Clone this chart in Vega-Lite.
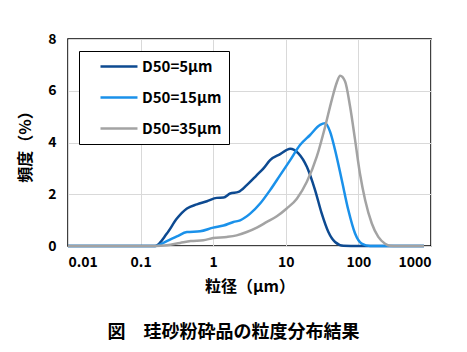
{
  "$schema": "https://vega.github.io/schema/vega-lite/v6.json",
  "width": 363,
  "height": 207,
  "autosize": {"type": "none"},
  "padding": {"left": 68, "top": 39, "right": 36, "bottom": 106},
  "background": "white",
  "title": {
    "text": "図　珪砂粉砕品の粒度分布結果",
    "orient": "bottom",
    "anchor": "middle",
    "frame": "group",
    "offset": 30,
    "dx": -16,
    "font": "Noto Sans CJK JP",
    "fontSize": 18,
    "fontWeight": "bold",
    "color": "#000"
  },
  "data": {
    "values": [
      {"s": "D50=5μm", "o": 1, "x": 0.01, "y": 0},
      {"s": "D50=5μm", "o": 1, "x": 0.1, "y": 0},
      {"s": "D50=5μm", "o": 1, "x": 0.159, "y": 0},
      {"s": "D50=5μm", "o": 1, "x": 0.23, "y": 0.48},
      {"s": "D50=5μm", "o": 1, "x": 0.316, "y": 1.06},
      {"s": "D50=5μm", "o": 1, "x": 0.435, "y": 1.45},
      {"s": "D50=5μm", "o": 1, "x": 0.596, "y": 1.61},
      {"s": "D50=5μm", "o": 1, "x": 0.82, "y": 1.73},
      {"s": "D50=5μm", "o": 1, "x": 1.12, "y": 1.86},
      {"s": "D50=5μm", "o": 1, "x": 1.39, "y": 1.87},
      {"s": "D50=5μm", "o": 1, "x": 1.71, "y": 2.03},
      {"s": "D50=5μm", "o": 1, "x": 2.23, "y": 2.09},
      {"s": "D50=5μm", "o": 1, "x": 2.9, "y": 2.35},
      {"s": "D50=5μm", "o": 1, "x": 3.99, "y": 2.74},
      {"s": "D50=5μm", "o": 1, "x": 4.93, "y": 3.0},
      {"s": "D50=5μm", "o": 1, "x": 6.08, "y": 3.32},
      {"s": "D50=5μm", "o": 1, "x": 8.36, "y": 3.55},
      {"s": "D50=5μm", "o": 1, "x": 11.5, "y": 3.76},
      {"s": "D50=5μm", "o": 1, "x": 14.9, "y": 3.58},
      {"s": "D50=5μm", "o": 1, "x": 19.5, "y": 3.06},
      {"s": "D50=5μm", "o": 1, "x": 25.3, "y": 2.16},
      {"s": "D50=5μm", "o": 1, "x": 31.3, "y": 1.25},
      {"s": "D50=5μm", "o": 1, "x": 38.6, "y": 0.54},
      {"s": "D50=5μm", "o": 1, "x": 47.7, "y": 0.155},
      {"s": "D50=5μm", "o": 1, "x": 62.2, "y": 0.01},
      {"s": "D50=5μm", "o": 1, "x": 100, "y": 0},
      {"s": "D50=5μm", "o": 1, "x": 800, "y": 0},
      {"s": "D50=15μm", "o": 2, "x": 0.01, "y": 0},
      {"s": "D50=15μm", "o": 2, "x": 0.1, "y": 0},
      {"s": "D50=15μm", "o": 2, "x": 0.16, "y": 0},
      {"s": "D50=15μm", "o": 2, "x": 0.23, "y": 0.19},
      {"s": "D50=15μm", "o": 2, "x": 0.316, "y": 0.37},
      {"s": "D50=15μm", "o": 2, "x": 0.435, "y": 0.54},
      {"s": "D50=15μm", "o": 2, "x": 0.66, "y": 0.57},
      {"s": "D50=15μm", "o": 2, "x": 1.0, "y": 0.71},
      {"s": "D50=15μm", "o": 2, "x": 1.39, "y": 0.79},
      {"s": "D50=15μm", "o": 2, "x": 1.9, "y": 0.93},
      {"s": "D50=15μm", "o": 2, "x": 2.35, "y": 0.99},
      {"s": "D50=15μm", "o": 2, "x": 3.23, "y": 1.25},
      {"s": "D50=15μm", "o": 2, "x": 4.43, "y": 1.64},
      {"s": "D50=15μm", "o": 2, "x": 6.08, "y": 2.16},
      {"s": "D50=15μm", "o": 2, "x": 8.36, "y": 2.74},
      {"s": "D50=15μm", "o": 2, "x": 11.5, "y": 3.32},
      {"s": "D50=15μm", "o": 2, "x": 15.7, "y": 3.9},
      {"s": "D50=15μm", "o": 2, "x": 21.6, "y": 4.29},
      {"s": "D50=15μm", "o": 2, "x": 29.7, "y": 4.68},
      {"s": "D50=15μm", "o": 2, "x": 34.8, "y": 4.74},
      {"s": "D50=15μm", "o": 2, "x": 40.7, "y": 4.42},
      {"s": "D50=15μm", "o": 2, "x": 47.7, "y": 3.71},
      {"s": "D50=15μm", "o": 2, "x": 59, "y": 2.55},
      {"s": "D50=15μm", "o": 2, "x": 72.8, "y": 1.38},
      {"s": "D50=15μm", "o": 2, "x": 90, "y": 0.48},
      {"s": "D50=15μm", "o": 2, "x": 111, "y": 0.09},
      {"s": "D50=15μm", "o": 2, "x": 145, "y": 0},
      {"s": "D50=15μm", "o": 2, "x": 800, "y": 0},
      {"s": "D50=35μm", "o": 3, "x": 0.01, "y": 0},
      {"s": "D50=35μm", "o": 3, "x": 0.1, "y": 0},
      {"s": "D50=35μm", "o": 3, "x": 0.16, "y": 0},
      {"s": "D50=35μm", "o": 3, "x": 0.23, "y": 0.03},
      {"s": "D50=35μm", "o": 3, "x": 0.35, "y": 0.12},
      {"s": "D50=35μm", "o": 3, "x": 0.49, "y": 0.19},
      {"s": "D50=35μm", "o": 3, "x": 0.73, "y": 0.22},
      {"s": "D50=35μm", "o": 3, "x": 1.0, "y": 0.31},
      {"s": "D50=35μm", "o": 3, "x": 1.54, "y": 0.35},
      {"s": "D50=35μm", "o": 3, "x": 2.1, "y": 0.41},
      {"s": "D50=35μm", "o": 3, "x": 2.9, "y": 0.54},
      {"s": "D50=35μm", "o": 3, "x": 3.99, "y": 0.71},
      {"s": "D50=35μm", "o": 3, "x": 5.48, "y": 0.93},
      {"s": "D50=35μm", "o": 3, "x": 7.52, "y": 1.15},
      {"s": "D50=35μm", "o": 3, "x": 10.3, "y": 1.45},
      {"s": "D50=35μm", "o": 3, "x": 14.2, "y": 1.83},
      {"s": "D50=35μm", "o": 3, "x": 19.5, "y": 2.48},
      {"s": "D50=35μm", "o": 3, "x": 26.7, "y": 3.45},
      {"s": "D50=35μm", "o": 3, "x": 34.8, "y": 4.61},
      {"s": "D50=35μm", "o": 3, "x": 43, "y": 5.65},
      {"s": "D50=35μm", "o": 3, "x": 50.4, "y": 6.32},
      {"s": "D50=35μm", "o": 3, "x": 56, "y": 6.58},
      {"s": "D50=35μm", "o": 3, "x": 65.6, "y": 6.36},
      {"s": "D50=35μm", "o": 3, "x": 76.8, "y": 5.39},
      {"s": "D50=35μm", "o": 3, "x": 90, "y": 4.1},
      {"s": "D50=35μm", "o": 3, "x": 105, "y": 2.8},
      {"s": "D50=35μm", "o": 3, "x": 124, "y": 1.77},
      {"s": "D50=35μm", "o": 3, "x": 153, "y": 0.87},
      {"s": "D50=35μm", "o": 3, "x": 188, "y": 0.35},
      {"s": "D50=35μm", "o": 3, "x": 233, "y": 0.09},
      {"s": "D50=35μm", "o": 3, "x": 273, "y": 0.01},
      {"s": "D50=35μm", "o": 3, "x": 350, "y": 0},
      {"s": "D50=35μm", "o": 3, "x": 800, "y": 0}
    ]
  },
  "mark": {"type": "line", "strokeWidth": 2.5, "interpolate": "monotone"},
  "encoding": {
    "x": {
      "field": "x",
      "type": "quantitative",
      "scale": {"type": "log", "domain": [0.01, 1000], "nice": false},
      "axis": {
        "title": "粒径（μm）",
        "values": [0.01, 0.1, 1, 10, 100, 1000],
        "labelExpr": "datum.value < 1 ? format(datum.value, '.2~f') : format(datum.value, 'd')",
        "grid": true,
        "ticks": false,
        "domain": false,
        "labelPadding": 9,
        "titlePadding": 9
      }
    },
    "y": {
      "field": "y",
      "type": "quantitative",
      "scale": {"domain": [0, 8], "nice": false},
      "axis": {
        "title": "頻度（%）",
        "values": [0, 2, 4, 6, 8],
        "grid": true,
        "ticks": false,
        "domain": false,
        "labelPadding": 12,
        "titlePadding": 14
      }
    },
    "color": {
      "field": "s",
      "type": "nominal",
      "sort": ["D50=5μm", "D50=15μm", "D50=35μm"],
      "scale": {
        "domain": ["D50=5μm", "D50=15μm", "D50=35μm"],
        "range": ["#0d4a91", "#1a91ea", "#a3a3a3"]
      },
      "legend": {
        "title": null,
        "orient": "none",
        "legendX": 11,
        "legendY": 12,
        "symbolType": "M0.857,0H6.14",
        "symbolSize": 196,
        "symbolStrokeWidth": 2.5,
        "labelFont": "Noto Sans CJK JP",
        "labelFontSize": 15,
        "labelFontWeight": "bold",
        "labelColor": "#000",
        "rowPadding": 14,
        "labelOffset": 39,
        "strokeColor": "#000",
        "padding": 7,
        "fillColor": "white"
      }
    },
    "order": {"field": "o"}
  },
  "config": {
    "view": {"stroke": "#000", "strokeWidth": 1.5},
    "axis": {
      "gridColor": "#d9d9d9",
      "gridWidth": 1,
      "labelFont": "Noto Sans CJK JP",
      "labelFontSize": 14,
      "labelFontWeight": "bold",
      "labelColor": "#000",
      "titleFont": "Noto Sans CJK JP",
      "titleFontSize": 16,
      "titleFontWeight": "bold",
      "titleColor": "#000"
    }
  }
}
